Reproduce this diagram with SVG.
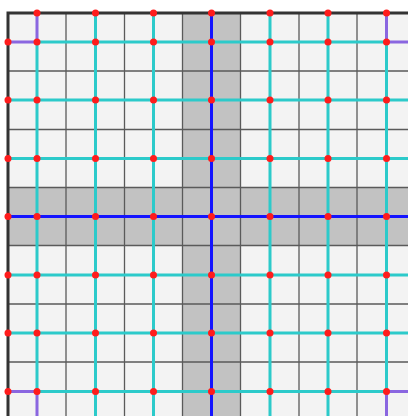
<svg xmlns="http://www.w3.org/2000/svg" width="408" height="416" viewBox="0 0 408 416">
<style>
.bg{fill:#f3f3f3}
.band{fill:#c2c2c2}
.thin{stroke:#5a5a5a;stroke-width:1.3;fill:none}
.cyan{stroke:#2ccaca;stroke-width:3;fill:none}
.purple{stroke:#8a66e0;stroke-width:3;fill:none}
.blue{stroke:#1414ff;stroke-width:3;fill:none}
.border{stroke:#333;stroke-width:3;fill:none}
.dot{fill:#ff1c1c}
</style>
<defs>
<circle id="d" r="3.5" class="dot"/>
</defs>
<rect width="408" height="416" fill="#ffffff"/>
<rect x="8" y="13" width="400" height="403" class="bg"/>
<g id="bands">
<rect x="182.5" y="13" width="58" height="403" class="band"/>
<rect x="8" y="187.5" width="400" height="58" class="band"/>
</g>
<g id="grid">
<path class="thin" d="M66 13V416M124.5 13V416M182.5 13V416M240.5 13V416M299 13V416M357 13V416M8 71H408M8 129.5H408M8 187.5H408M8 245.5H408M8 304H408M8 362H408"/>
</g>
<g id="connectors">
<path class="cyan" d="M37 42V391.5M95.5 13V416M153.5 13V416M270 13V416M328 13V416M386.5 42V391.5M37 42H386.5M8 100H408M8 158.5H408M8 275H408M8 333H408M37 391.5H386.5"/>
<path class="purple" d="M37 13V42M8 42H37M386.5 13V42M386.5 42H408M8 391.5H37M37 391.5V416M386.5 391.5H408M386.5 391.5V416"/>
<path class="blue" d="M211.5 13V416M8 216.5H408"/>
</g>
<g id="border">
<path class="border" d="M8 416V13H408"/>
</g>
<g id="nodes">
<use href="#d" x="37" y="13"/><use href="#d" x="95.5" y="13"/><use href="#d" x="153.5" y="13"/><use href="#d" x="211.5" y="13"/><use href="#d" x="270" y="13"/><use href="#d" x="328" y="13"/><use href="#d" x="386.5" y="13"/>
<use href="#d" x="8" y="42"/><use href="#d" x="8" y="100"/><use href="#d" x="8" y="158.5"/><use href="#d" x="8" y="216.5"/><use href="#d" x="8" y="275"/><use href="#d" x="8" y="333"/><use href="#d" x="8" y="391.5"/>
<use href="#d" x="37" y="42"/><use href="#d" x="95.5" y="42"/><use href="#d" x="153.5" y="42"/><use href="#d" x="211.5" y="42"/><use href="#d" x="270" y="42"/><use href="#d" x="328" y="42"/><use href="#d" x="386.5" y="42"/>
<use href="#d" x="37" y="100"/><use href="#d" x="95.5" y="100"/><use href="#d" x="153.5" y="100"/><use href="#d" x="211.5" y="100"/><use href="#d" x="270" y="100"/><use href="#d" x="328" y="100"/><use href="#d" x="386.5" y="100"/>
<use href="#d" x="37" y="158.5"/><use href="#d" x="95.5" y="158.5"/><use href="#d" x="153.5" y="158.5"/><use href="#d" x="211.5" y="158.5"/><use href="#d" x="270" y="158.5"/><use href="#d" x="328" y="158.5"/><use href="#d" x="386.5" y="158.5"/>
<use href="#d" x="37" y="216.5"/><use href="#d" x="95.5" y="216.5"/><use href="#d" x="153.5" y="216.5"/><use href="#d" x="211.5" y="216.5"/><use href="#d" x="270" y="216.5"/><use href="#d" x="328" y="216.5"/><use href="#d" x="386.5" y="216.5"/>
<use href="#d" x="37" y="275"/><use href="#d" x="95.5" y="275"/><use href="#d" x="153.5" y="275"/><use href="#d" x="211.5" y="275"/><use href="#d" x="270" y="275"/><use href="#d" x="328" y="275"/><use href="#d" x="386.5" y="275"/>
<use href="#d" x="37" y="333"/><use href="#d" x="95.5" y="333"/><use href="#d" x="153.5" y="333"/><use href="#d" x="211.5" y="333"/><use href="#d" x="270" y="333"/><use href="#d" x="328" y="333"/><use href="#d" x="386.5" y="333"/>
<use href="#d" x="37" y="391.5"/><use href="#d" x="95.5" y="391.5"/><use href="#d" x="153.5" y="391.5"/><use href="#d" x="211.5" y="391.5"/><use href="#d" x="270" y="391.5"/><use href="#d" x="328" y="391.5"/><use href="#d" x="386.5" y="391.5"/>
</g>
</svg>
